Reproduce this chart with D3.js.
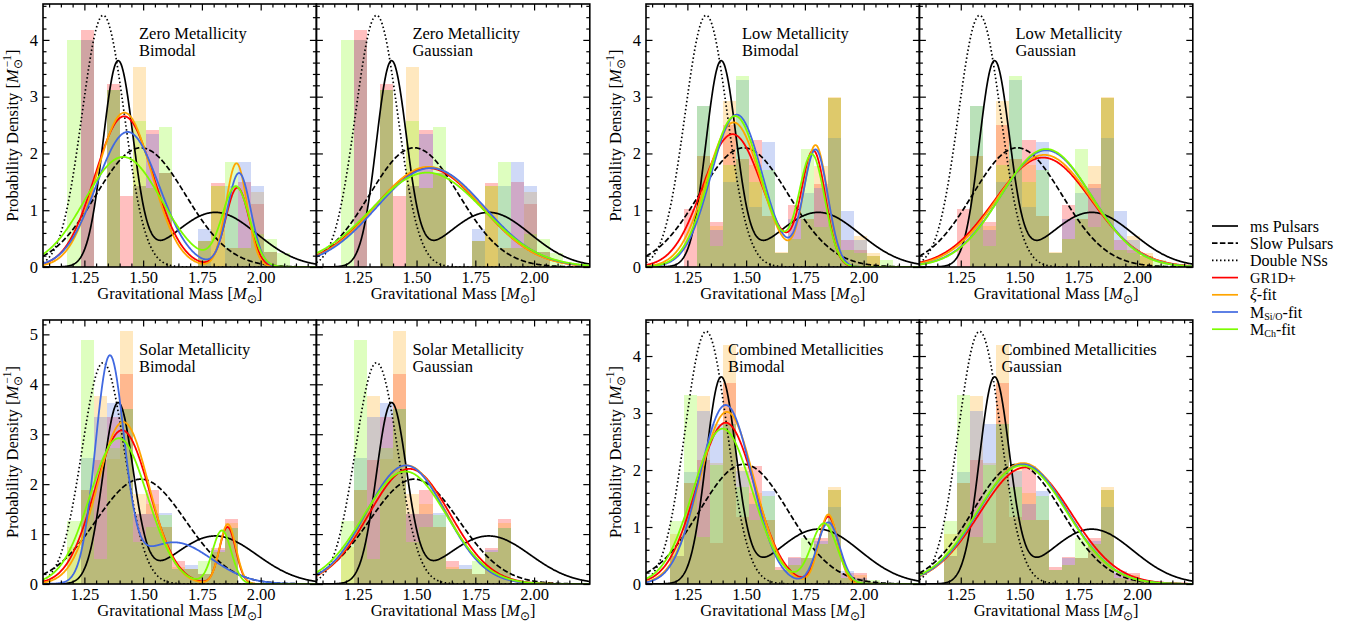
<!DOCTYPE html>
<html><head><meta charset="utf-8">
<script src="https://cdn.jsdelivr.net/npm/d3@7"></script>
<style>
body{margin:0;background:#fff;}
svg text{font-family:"Liberation Serif","Times New Roman",serif;fill:#000;}
</style></head><body>
<svg id="chart" width="1361" height="630"></svg>
<script>
// ---------------- DATA ----------------
const massTicks = [1.25, 1.50, 1.75, 2.00];
const massTickLabels = ["1.25", "1.50", "1.75", "2.00"];
const massDomain = [1.074, 2.237];
const modelNames = ["GR1D+", "ξ-fit", "MSi/O-fit", "MCh-fit"];
const metallicities = ["Zero Metallicity", "Low Metallicity", "Solar Metallicity", "Combined Metallicities"];
const fitTypes = ["Bimodal", "Gaussian"];

// histogram bins (left edge of first bin, bin width), heights = probability density
const binStart = 1.178;
const binWidth = 0.0557;

const zeroGR1D = [0, 4.18, 0, 3.23, 1.25, 1.43, 2.42, 1.65, 0, 0, 0.45, 1.48, 0.33, 1.50, 1.11, 0.27, 0];
const zeroXi   = [0, 4.00, 0, 3.12, 0, 3.53, 1.40, 1.65, 0, 0, 0.45, 1.43, 0.33, 0.33, 1.32, 0.27, 0];
const zeroSiO  = [0, 4.00, 0, 3.12, 0, 1.43, 2.35, 1.65, 0, 0, 0.67, 0, 1.43, 1.85, 1.43, 0.27, 0];
const zeroCh   = [4.00, 0, 0, 3.12, 0, 2.57, 1.40, 2.47, 0, 0, 0.45, 1.43, 1.85, 0.33, 0.59, 0.50, 0.25];

const lowGR1D = [0, 1.03, 1.95, 0.80, 2.50, 1.90, 2.23, 0.90, 0.25, 1.10, 0.85, 1.47, 2.97, 0.47, 0.30, 0.20, 0];
const lowXi   = [0, 0, 1.95, 0.72, 2.93, 1.90, 1.80, 0.90, 0.27, 0.50, 0.85, 1.78, 3.00, 0.30, 0.55, 0.25, 0];
const lowSiO  = [0, 0, 2.83, 0.65, 1.50, 3.30, 1.05, 2.20, 0.25, 0.85, 1.30, 1.40, 2.27, 0.98, 0.47, 0, 0];
const lowCh   = [0, 0, 2.83, 0.37, 1.80, 3.36, 1.50, 1.70, 0.25, 0.50, 2.07, 0.70, 2.97, 0.30, 0.25, 0.20, 0.12];

const solarGR1D = [0, 1.88, 2.48, 3.35, 4.20, 1.40, 1.88, 1.15, 0.47, 0.30, 0.20, 0.72, 1.30, 0.03];
const solarXi   = [0.75, 1.88, 3.76, 2.50, 5.06, 1.80, 1.60, 1.15, 0.35, 0.30, 0.20, 0.65, 1.22, 0.03];
const solarSiO  = [0, 2.53, 3.35, 3.62, 3.50, 1.40, 1.40, 1.43, 0.30, 0.39, 0.20, 0.68, 1.12, 0.03];
const solarCh   = [1.27, 4.88, 0.50, 2.73, 3.50, 0.85, 1.15, 1.38, 0.30, 0.30, 0.47, 0.65, 1.12, 0.03];

const combGR1D = [0.50, 1.78, 2.18, 0.72, 3.52, 1.17, 2.07, 1.12, 0.30, 0.47, 0.45, 0.80, 1.65, 0.20, 0.20, 0.03];
const combXi   = [0.87, 1.78, 3.30, 2.12, 4.20, 2.05, 1.60, 1.12, 0.25, 0.33, 0.45, 0.70, 1.70, 0.10, 0.15, 0.03];
const combSiO  = [0.50, 1.96, 3.03, 2.80, 2.80, 1.98, 1.40, 1.64, 0.25, 0.45, 0.45, 0.75, 1.35, 0.23, 0.10, 0.03];
const combCh   = [1.10, 3.32, 0.82, 2.08, 2.80, 1.70, 1.12, 1.55, 0.25, 0.33, 0.80, 0.70, 1.65, 0.10, 0.05, 0.07];

// observed distributions: bimodal [weight1, mu1, sigma1, mu2, sigma2], gaussian [mu, sigma]
const msPulsars = [0.573, 1.393, 0.064, 1.807, 0.177];
const slowPulsars = [1.49, 0.19];
const doubleNSs = [1.33, 0.09];

// fits per model (GR1D+, xi, MSi/O, MCh)
const zeroBimodal = [[0.825, 1.419, 0.124, 1.901, 0.050], [0.794, 1.420, 0.1165, 1.897, 0.045], [0.793, 1.434, 0.133, 1.908, 0.050], [0.797, 1.415, 0.164, 1.895, 0.058]];
const zeroGaussian = [[1.548, 0.229], [1.550, 0.226], [1.560, 0.229], [1.545, 0.240]];
const lowBimodal = [[0.745, 1.442, 0.127, 1.787, 0.051], [0.734, 1.447, 0.115, 1.796, 0.050], [0.733, 1.460, 0.109, 1.796, 0.052], [0.730, 1.453, 0.1095, 1.780, 0.055]];
const lowGaussian = [[1.600, 0.207], [1.605, 0.202], [1.613, 0.194], [1.613, 0.192]];
const solarBimodal = [[0.900, 1.410, 0.1166, 1.859, 0.035], [0.895, 1.415, 0.110, 1.860, 0.035], [0.665, 1.357, 0.0605, 1.630, 0.160], [0.893, 1.396, 0.122, 1.835, 0.040]];
const solarGaussian = [[1.470, 0.173], [1.458, 0.168], [1.455, 0.168], [1.452, 0.177]];
const combBimodal = [[0.876, 1.413, 0.1235, 1.850, 0.042], [0.878, 1.418, 0.116, 1.850, 0.040], [0.870, 1.413, 0.1105, 1.850, 0.048], [0.854, 1.400, 0.125, 1.832, 0.055]];
const combGaussian = [[1.525, 0.195], [1.514, 0.188], [1.514, 0.190], [1.510, 0.192]];

// ---------------- STYLE / LAYOUT ----------------
const modelColors = ["#ff0000", "#ffa500", "#4169e1", "#7cfc00"];
const histAlpha = 0.25;
const panelW = 273.4;
const pairLeft = [43, 646];
const rowTop = [4, 320];
const rowH = [263, 264];
const FS = 16.5;

const svg = d3.select("#chart");
const npdf = (x, mu, s) => Math.exp(-0.5 * ((x - mu) / s) ** 2) / (s * Math.sqrt(2 * Math.PI));
const bimodal = p => x => p[0] * npdf(x, p[1], p[2]) + (1 - p[0]) * npdf(x, p[3], p[4]);
const gauss = p => x => npdf(x, p[0], p[1]);
const grid = d3.range(massDomain[0], massDomain[1] + 1e-9, 0.002);

const sets = [
  {name: metallicities[0], hist: [zeroGR1D, zeroXi, zeroSiO, zeroCh], fits: [zeroBimodal, zeroGaussian], row: 0, pair: 0, tx: 96},
  {name: metallicities[1], hist: [lowGR1D, lowXi, lowSiO, lowCh], fits: [lowBimodal, lowGaussian], row: 0, pair: 1, tx: 96},
  {name: metallicities[2], hist: [solarGR1D, solarXi, solarSiO, solarCh], fits: [solarBimodal, solarGaussian], row: 1, pair: 0, tx: 96},
  {name: metallicities[3], hist: [combGR1D, combXi, combSiO, combCh], fits: [combBimodal, combGaussian], row: 1, pair: 1, tx: 82}
];

const refCurves = [
  {f: bimodal(msPulsars), dash: null},
  {f: gauss(slowPulsars), dash: "5.5,2.4"},
  {f: gauss(doubleNSs), dash: "1.5,2.5"}
];

function addM(sel, sup) {
  sel.append("tspan").attr("font-style", "italic").text("M");
  if (sup) {
    sel.append("tspan").attr("font-size", FS * 0.7).attr("dy", 4).text("⊙");
    sel.append("tspan").attr("font-size", FS * 0.7).attr("dx", -8).attr("dy", -11).text("−1");
    sel.append("tspan").attr("dy", 7).text("]");
  } else {
    sel.append("tspan").attr("font-size", FS * 0.7).attr("dy", 4).text("⊙");
    sel.append("tspan").attr("dy", -4).text("]");
  }
}

let clipId = 0;
sets.forEach(set => {
  // y max: autoscale 5% above largest value in the pair
  let ymax = 0;
  set.hist.forEach(h => h.forEach(v => { ymax = Math.max(ymax, v); }));
  refCurves.forEach(c => grid.forEach(v => { ymax = Math.max(ymax, c.f(v)); }));
  set.fits.forEach((fl, k) => fl.forEach(p => {
    const f = k === 0 ? bimodal(p) : gauss(p);
    grid.forEach(v => { ymax = Math.max(ymax, f(v)); });
  }));
  ymax *= 1.045;
  const H = rowH[set.row];

  [0, 1].forEach(k => {
    const left = pairLeft[set.pair] + k * panelW;
    const top = rowTop[set.row];
    const g = svg.append("g").attr("transform", `translate(${left},${top})`);
    const x = d3.scaleLinear().domain(massDomain).range([0, panelW]);
    const y = d3.scaleLinear().domain([0, ymax]).range([H, 0]);
    const cid = "clip" + (clipId++);
    g.append("clipPath").attr("id", cid).append("rect").attr("width", panelW).attr("height", H);
    const plot = g.append("g").attr("clip-path", `url(#${cid})`);

    // histograms
    set.hist.forEach((heights, si) => {
      plot.append("g").selectAll("rect")
        .data(heights.map((h, i) => ({h, i})).filter(d => d.h > 0))
        .join("rect")
        .attr("x", d => x(binStart + d.i * binWidth))
        .attr("width", d => x(binStart + (d.i + 1) * binWidth) - x(binStart + d.i * binWidth))
        .attr("y", d => y(d.h))
        .attr("height", d => y(0) - y(d.h))
        .attr("fill", modelColors[si])
        .attr("fill-opacity", histAlpha)
        .attr("shape-rendering", "crispEdges");
    });

    const line = f => d3.line().x(v => x(v)).y(v => y(f(v)))(grid);
    refCurves.forEach(c => {
      plot.append("path").attr("d", line(c.f)).attr("fill", "none").attr("stroke", "#000")
        .attr("stroke-width", 1.7).attr("stroke-dasharray", c.dash);
    });
    set.fits[k].forEach((p, mi) => {
      const f = k === 0 ? bimodal(p) : gauss(p);
      plot.append("path").attr("d", line(f)).attr("fill", "none").attr("stroke", modelColors[mi])
        .attr("stroke-width", 1.8);
    });

    // axes (ticks inward on all sides)
    const xMinor = d3.range(22, 45).map(i => i * 0.05).filter(v => v > massDomain[0] && v < massDomain[1] && !massTicks.some(t => Math.abs(t - v) < 1e-6));
    const yMajor = d3.range(0, Math.floor(ymax) + 1);
    const yMinor = d3.range(1, Math.floor(ymax * 5) + 1).map(i => i / 5).filter(v => Math.abs(v - Math.round(v)) > 1e-6);

    const styleAxis = a => { a.select(".domain").remove(); a.selectAll("line").attr("stroke", "#000").attr("stroke-width", 1.2); a.selectAll("text").attr("font-size", FS).attr("font-family", '"Liberation Serif",serif'); };
    g.append("g").attr("transform", `translate(0,${H})`).call(d3.axisBottom(x).tickValues(massTicks).tickFormat((d, i) => massTickLabels[i]).tickSizeInner(-6.5).tickSizeOuter(0).tickPadding(4)).call(styleAxis);
    g.append("g").attr("transform", `translate(0,${H})`).call(d3.axisBottom(x).tickValues(xMinor).tickFormat("").tickSizeInner(-3.5).tickSizeOuter(0)).call(styleAxis);
    g.append("g").call(d3.axisTop(x).tickValues(massTicks).tickFormat("").tickSizeInner(-6.5).tickSizeOuter(0)).call(styleAxis);
    g.append("g").call(d3.axisTop(x).tickValues(xMinor).tickFormat("").tickSizeInner(-3.5).tickSizeOuter(0)).call(styleAxis);
    g.append("g").call(d3.axisLeft(y).tickValues(yMajor).tickFormat(k === 0 ? d3.format("d") : "").tickSizeInner(-6.5).tickSizeOuter(0).tickPadding(5)).call(styleAxis);
    g.append("g").call(d3.axisLeft(y).tickValues(yMinor).tickFormat("").tickSizeInner(-3.5).tickSizeOuter(0)).call(styleAxis);
    g.append("g").attr("transform", `translate(${panelW},0)`).call(d3.axisRight(y).tickValues(yMajor).tickFormat("").tickSizeInner(-6.5).tickSizeOuter(0)).call(styleAxis);
    g.append("g").attr("transform", `translate(${panelW},0)`).call(d3.axisRight(y).tickValues(yMinor).tickFormat("").tickSizeInner(-3.5).tickSizeOuter(0)).call(styleAxis);

    g.append("rect").attr("width", panelW).attr("height", H).attr("fill", "none").attr("stroke", "#000").attr("stroke-width", 1.6);

    // panel title
    const t = g.append("text").attr("x", set.tx).attr("y", 35).attr("font-size", FS).attr("fill", "#222");
    t.append("tspan").attr("x", set.tx).text(set.name);
    t.append("tspan").attr("x", set.tx).attr("dy", 16.5).text(fitTypes[k]);

    // x label
    const xl = g.append("text").attr("x", panelW / 2).attr("y", H + 32).attr("text-anchor", "middle").attr("font-size", FS);
    xl.append("tspan").text("Gravitational Mass [");
    addM(xl, false);

    if (k === 0) {
      const yl = g.append("text").attr("transform", `translate(${-25},${H / 2}) rotate(-90)`).attr("text-anchor", "middle").attr("font-size", FS);
      yl.append("tspan").text("Probability Density [");
      addM(yl, true);
    }
  });
});

// ---------------- LEGEND ----------------
const legendEntries = [
  {color: "#000", dash: null}, {color: "#000", dash: "5.5,2.4"}, {color: "#000", dash: "1.5,2.5"},
  {color: modelColors[0], dash: null}, {color: modelColors[1], dash: null}, {color: modelColors[2], dash: null}, {color: modelColors[3], dash: null}
];
const legendLabels = ["ms Pulsars", "Slow Pulsars", "Double NSs", modelNames[0], modelNames[1], modelNames[2], modelNames[3]];
const lg = svg.append("g").attr("transform", "translate(1212,226)");
legendEntries.forEach((e, i) => {
  const yy = i * 17.2;
  lg.append("line").attr("x1", 0).attr("x2", 26).attr("y1", yy).attr("y2", yy).attr("stroke", e.color).attr("stroke-width", 1.7).attr("stroke-dasharray", e.dash);
  const t = lg.append("text").attr("x", 38).attr("y", yy + 5.5).attr("font-size", 16);
  const lab = legendLabels[i];
  if (i === 3) {
    t.attr("font-family", '"Liberation Mono","DejaVu Sans Mono",monospace').attr("font-size", 14.5).text(lab);
  } else if (i === 4) {
    t.append("tspan").attr("font-style", "italic").text("ξ");
    t.append("tspan").text("-fit");
  } else if (i === 5 || i === 6) {
    const sub = i === 5 ? "Si/O" : "Ch";
    t.append("tspan").text("M");
    t.append("tspan").attr("font-size", 10).attr("dy", 2.5).text(sub);
    t.append("tspan").attr("dy", -2.5).text("-fit");
  } else {
    t.text(lab);
  }
});
</script>
</body></html>
